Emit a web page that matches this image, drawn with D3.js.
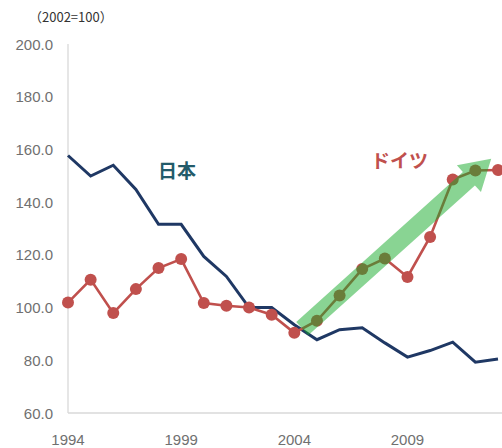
<!DOCTYPE html>
<html>
<head>
<meta charset="utf-8">
<script src="https://cdn.jsdelivr.net/npm/d3@7"></script>
<style>
  html, body { margin: 0; padding: 0; background: #fff; }
  svg { display: block; }
</style>
</head>
<body>
<svg id="chart" width="502" height="448"></svg>
<script>
// Unit labour cost index, 2002 = 100
const years = d3.range(1994, 2014);
const japan = [157.7, 149.9, 154.0, 144.8, 131.6, 131.6, 119.4, 111.8, 100.0, 100.0,
               93.5, 87.8, 91.6, 92.3, 86.6, 81.2, 83.7, 86.9, 79.3, 80.5];
const germany = [101.9, 110.6, 97.9, 107.0, 115.0, 118.4, 101.7, 100.7, 100.0, 97.3,
                 90.4, 95.0, 104.6, 114.6, 118.6, 111.6, 126.8, 148.6, 152.0, 152.2];
const yTicks = [60, 80, 100, 120, 140, 160, 180, 200];
const xTicks = [1994, 1999, 2004, 2009];
// trend arrow drawn over the German series (start / end in data units)
const trendFrom = { year: 2004.35, value: 92.0 };
const trendTo   = { year: 2012.7,  value: 156.5 };

const svg = d3.select("#chart");
const x = d3.scaleLinear().domain([1994, 2013]).range([68, 498]);
const y = d3.scaleLinear().domain([60, 200]).range([413, 44]);

const font = "'Liberation Sans', Arial, sans-serif";

// axes
svg.append("line")
  .attr("x1", x(1994)).attr("x2", x(1994))
  .attr("y1", y(200)).attr("y2", y(60))
  .attr("stroke", "#d9d9d9").attr("stroke-width", 1.3);
svg.append("line")
  .attr("x1", x(1994)).attr("x2", 502)
  .attr("y1", y(60)).attr("y2", y(60))
  .attr("stroke", "#d9d9d9").attr("stroke-width", 1.3);

svg.append("g").selectAll("text").data(yTicks).join("text")
  .attr("x", 53).attr("y", d => y(d) + 5.5)
  .attr("text-anchor", "end")
  .attr("font-family", font).attr("font-size", 15)
  .attr("fill", "#707070")
  .text(d => d.toFixed(1));

svg.append("g").selectAll("text").data(xTicks).join("text")
  .attr("x", d => x(d)).attr("y", 445)
  .attr("text-anchor", "middle")
  .attr("font-family", font).attr("font-size", 15)
  .attr("fill", "#707070")
  .text(d => d);

svg.append("text")
  .attr("x", 29).attr("y", 22)
  .attr("font-family", "'Noto Sans CJK JP', sans-serif").attr("font-size", 13)
  .attr("fill", "#333")
  .text("（2002=100）");

// series
const line = (vals) => d3.line().x((d, i) => x(years[i])).y(d => y(d))(vals);

svg.append("path")
  .attr("d", line(japan))
  .attr("fill", "none").attr("stroke", "#1f3864")
  .attr("stroke-width", 3).attr("stroke-linejoin", "miter");

svg.append("path")
  .attr("d", line(germany))
  .attr("fill", "none").attr("stroke", "#c0504d")
  .attr("stroke-width", 2.6);

svg.append("g").selectAll("circle").data(germany).join("circle")
  .attr("cx", (d, i) => x(years[i])).attr("cy", d => y(d))
  .attr("r", 6).attr("fill", "#c0504d");

// trend arrow
const ax0 = x(trendFrom.year), ay0 = y(trendFrom.value);
const ax1 = x(trendTo.year), ay1 = y(trendTo.value);
const len = Math.hypot(ax1 - ax0, ay1 - ay0);
const ang = Math.atan2(ay1 - ay0, ax1 - ax0) * 180 / Math.PI;
const shaft = 9, head = 18, headLen = 30;
const arrowPts = [
  [0, -shaft], [len - headLen, -shaft], [len - headLen, -head], [len, 0],
  [len - headLen, head], [len - headLen, shaft], [0, shaft]
];
svg.append("polygon")
  .attr("points", arrowPts.map(p => p.join(",")).join(" "))
  .attr("transform", `translate(${ax0},${ay0}) rotate(${ang})`)
  .attr("fill", "rgb(20,170,40)").attr("fill-opacity", 0.5);

// series labels
svg.append("text")
  .attr("x", 158).attr("y", 178)
  .attr("font-family", "'Noto Sans CJK JP', sans-serif").attr("font-size", 19)
  .attr("font-weight", "bold").attr("fill", "#235b6a")
  .text("日本");
svg.append("text")
  .attr("x", 371).attr("y", 168)
  .attr("font-family", "'Noto Sans CJK JP', sans-serif").attr("font-size", 19)
  .attr("font-weight", "bold").attr("fill", "#c0504d")
  .text("ドイツ");
</script>
</body>
</html>
